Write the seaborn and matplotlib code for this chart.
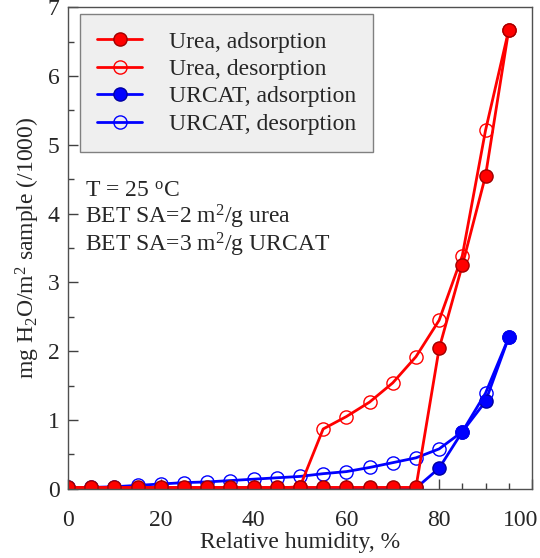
import numpy as np
import pandas as pd
import matplotlib
matplotlib.use("Agg")
import matplotlib.pyplot as plt
from matplotlib.ticker import MultipleLocator
import seaborn as sns


RH = [0, 5, 10, 15, 20, 25, 30, 35, 40, 45, 50, 55, 60, 65, 70, 75, 80, 85, 90, 95]

UREA_ADS = [0.02, 0.02, 0.02, 0.02, 0.02, 0.02, 0.02, 0.02, 0.02, 0.02,
            0.02, 0.02, 0.02, 0.02, 0.02, 0.02, 2.04, 3.25, 4.55, 6.67]
UREA_DES = [0.01, 0.01, 0.01, 0.01, 0.01, 0.01, 0.01, 0.01, 0.01, 0.01,
            0.03, 0.87, 1.05, 1.26, 1.54, 1.92, 2.45, 3.39, 5.21, 6.67]
URCAT_ADS = [0.01, 0.01, 0.01, 0.01, 0.01, 0.01, 0.01, 0.01, 0.01, 0.01,
             0.01, 0.01, 0.01, 0.01, 0.01, 0.01, 0.30, 0.83, 1.27, 2.20]
URCAT_DES = [0.02, 0.02, 0.03, 0.05, 0.07, 0.09, 0.10, 0.12, 0.14, 0.16,
             0.18, 0.22, 0.25, 0.31, 0.38, 0.45, 0.58, 0.83, 1.39, 2.20]

LABELS = ["Urea, adsorption", "Urea, desorption",
          "URCAT, adsorption", "URCAT, desorption"]

X_TICKS = [0, 20, 40, 60, 80, 100]
X_TICK_LABELS = ["0", "20", "40", "60", "80", "100"]

NOTE_LINES = ["T = 25 $^{\\rm o}$C",
              "BET SA=2 m$^2$/g urea",
              "BET SA=3 m$^2$/g URCAT"]
NOTE_Y = [0.607, 0.551, 0.493]

FS = 17
XPAD = 15


def build_frame():
    series = dict(zip(LABELS, [UREA_ADS, UREA_DES, URCAT_ADS, URCAT_DES]))
    rows = []
    for name, values in series.items():
        for x, y in zip(RH, values):
            rows.append({"series": name, "rh": x, "value": y})
    return pd.DataFrame(rows)


def main():
    sns.set_style("white")
    plt.rcParams["font.family"] = ["Liberation Serif", "DejaVu Serif"]
    plt.rcParams["mathtext.fontset"] = "custom"
    plt.rcParams["mathtext.rm"] = "Liberation Serif"
    plt.rcParams["mathtext.it"] = "Liberation Serif:italic"
    plt.rcParams["font.size"] = FS

    df = build_frame()

    styles = {
        "Urea, adsorption": dict(color="#ff0000", mfc="#ff0000", mec="#a00000"),
        "Urea, desorption": dict(color="#ff0000", mfc="none", mec="#ff0000"),
        "URCAT, adsorption": dict(color="#0000ff", mfc="#0000ff", mec="#0000a0"),
        "URCAT, desorption": dict(color="#0000ff", mfc="none", mec="#0000ff"),
    }
    draw_order = ["URCAT, adsorption", "URCAT, desorption",
                  "Urea, desorption", "Urea, adsorption"]

    fig = plt.figure(figsize=(5.4, 5.58), dpi=100)
    ax = fig.add_axes([0.126, 0.124, 0.859, 0.863])

    handles = {}
    for name in draw_order:
        sub = df[df["series"] == name]
        st = styles[name]
        sns.lineplot(data=sub, x="rh", y="value", ax=ax, sort=False,
                     color=st["color"], linewidth=2, marker="o",
                     markersize=9.5, markerfacecolor=st["mfc"],
                     markeredgecolor=st["mec"], markeredgewidth=1.0,
                     label=name)
        handles[name] = ax.lines[-1]

    ax.set_xlim(0, 100)
    ax.set_ylim(0, 7)
    # the "100" label is drawn by hand further down, nudged left like the original
    ax.set_xticks(X_TICKS, X_TICK_LABELS[:-1] + [""])
    ax.xaxis.set_minor_locator(MultipleLocator(5))
    ax.yaxis.set_major_locator(MultipleLocator(1))
    ax.yaxis.set_minor_locator(MultipleLocator(0.5))
    ax.tick_params(which="both", direction="in", bottom=True, left=True,
                   top=False, right=False, color="#404040", labelsize=FS)
    ax.tick_params(which="major", length=7, width=1)
    ax.tick_params(which="minor", length=4, width=1)
    ax.tick_params(axis="x", pad=XPAD)
    ax.tick_params(axis="y", pad=6)
    for sp in ax.spines.values():
        sp.set_color("#505050")
        sp.set_linewidth(1)

    ax.annotate(X_TICK_LABELS[-1], xy=(X_TICKS[-1], 0),
                xycoords=("data", "axes fraction"),
                xytext=(-8, -XPAD), textcoords="offset points",
                ha="center", va="top", fontsize=FS, annotation_clip=False)

    ax.set_xlabel("Relative humidity, %", fontsize=FS, labelpad=1)
    ax.set_ylabel("mg H$_2$O/m$^2$ sample (/1000)", fontsize=FS, labelpad=4)

    leg = ax.legend([handles[n] for n in LABELS], LABELS,
                    loc="upper left", bbox_to_anchor=(0.026, 0.986),
                    borderaxespad=0, frameon=True, fancybox=False,
                    facecolor="#efefef", edgecolor="#808080", framealpha=1,
                    fontsize=FS, borderpad=0.72, handlelength=1.9,
                    handletextpad=1.15, labelspacing=0.25)
    leg.get_frame().set_linewidth(1)

    for line, y in zip(NOTE_LINES, NOTE_Y):
        ax.text(0.037, y, line, transform=ax.transAxes,
                ha="left", va="baseline", fontsize=FS)

    fig.savefig("out.png", dpi=100)
    plt.close(fig)


if __name__ == "__main__":
    main()
